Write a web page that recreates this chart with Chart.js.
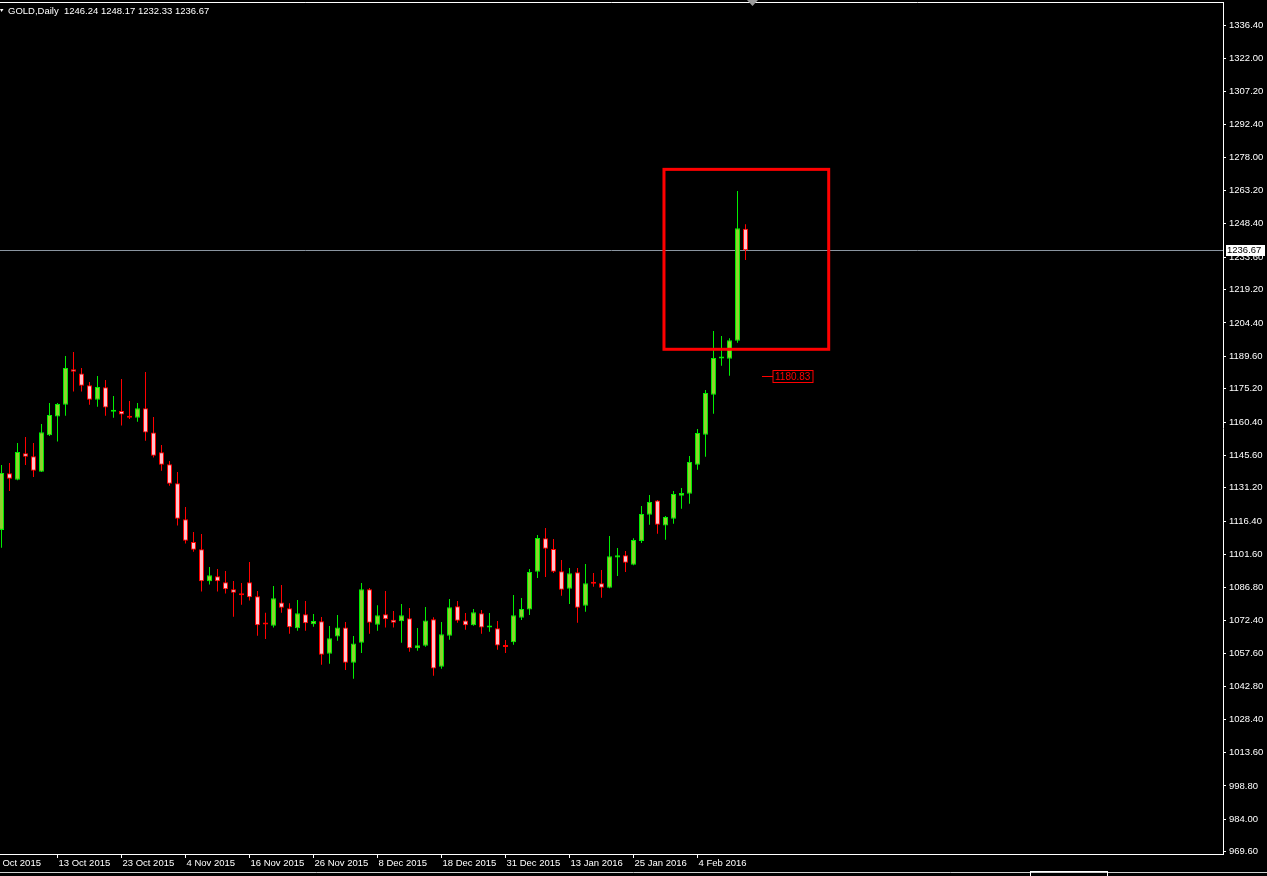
<!DOCTYPE html>
<html><head><meta charset="utf-8">
<script src="https://cdn.jsdelivr.net/npm/chart.js@4.4.1/dist/chart.umd.min.js"></script>
<style>html,body{margin:0;padding:0;background:#000;overflow:hidden}canvas{display:block;background:#000}</style>
</head><body>
<canvas id="c" width="1267" height="876"></canvas>
<script>
// ---- data (GOLD, Daily) ----
const dates = [
 "2 Oct 2015","5 Oct 2015","6 Oct 2015","7 Oct 2015","8 Oct 2015","9 Oct 2015","12 Oct 2015","13 Oct 2015","14 Oct 2015","15 Oct 2015",
 "16 Oct 2015","19 Oct 2015","20 Oct 2015","21 Oct 2015","22 Oct 2015","23 Oct 2015","26 Oct 2015","27 Oct 2015","28 Oct 2015","29 Oct 2015",
 "30 Oct 2015","2 Nov 2015","3 Nov 2015","4 Nov 2015","5 Nov 2015","6 Nov 2015","9 Nov 2015","10 Nov 2015","11 Nov 2015","12 Nov 2015",
 "13 Nov 2015","16 Nov 2015","17 Nov 2015","18 Nov 2015","19 Nov 2015","20 Nov 2015","23 Nov 2015","24 Nov 2015","25 Nov 2015","26 Nov 2015",
 "27 Nov 2015","30 Nov 2015","1 Dec 2015","2 Dec 2015","3 Dec 2015","4 Dec 2015","7 Dec 2015","8 Dec 2015","9 Dec 2015","10 Dec 2015",
 "11 Dec 2015","14 Dec 2015","15 Dec 2015","16 Dec 2015","17 Dec 2015","18 Dec 2015","21 Dec 2015","22 Dec 2015","23 Dec 2015","24 Dec 2015",
 "28 Dec 2015","29 Dec 2015","30 Dec 2015","31 Dec 2015","4 Jan 2016","5 Jan 2016","6 Jan 2016","7 Jan 2016","8 Jan 2016","11 Jan 2016",
 "12 Jan 2016","13 Jan 2016","14 Jan 2016","15 Jan 2016","18 Jan 2016","19 Jan 2016","20 Jan 2016","21 Jan 2016","22 Jan 2016","25 Jan 2016",
 "26 Jan 2016","27 Jan 2016","28 Jan 2016","29 Jan 2016","1 Feb 2016","2 Feb 2016","3 Feb 2016","4 Feb 2016","5 Feb 2016","8 Feb 2016",
 "9 Feb 2016","10 Feb 2016","11 Feb 2016","12 Feb 2016"
];
const openP = [
 1112.5,1137.6,1134.8,1146.5,1145.2,1138.3,1154.5,1162.8,1168.1,1183.8,
 1182.0,1176.7,1170.3,1175.8,1165.0,1165.3,1163.1,1162.3,1166.5,1155.8,
 1147.0,1141.6,1133.2,1117.2,1107.1,1103.9,1089.7,1091.9,1089.2,1086.1,
 1083.9,1089.2,1083.0,1070.9,1069.9,1080.3,1077.7,1068.8,1075.0,1070.6,
 1071.9,1057.5,1065.2,1069.2,1053.5,1062.4,1086.1,1070.4,1075.0,1072.6,
 1071.9,1073.3,1059.9,1061.0,1072.8,1051.7,1065.5,1078.6,1072.3,1070.1,
 1075.5,1069.1,1068.8,1060.9,1062.6,1073.5,1077.1,1093.9,1108.8,1104.0,
 1094.1,1086.4,1093.7,1078.8,1089.0,1088.8,1086.8,1100.2,1101.2,1097.0,
 1107.6,1119.2,1125.6,1114.4,1117.5,1127.7,1128.6,1141.4,1154.8,1172.5,
 1188.6,1188.5,1196.5,1246.24
];
const highP = [
 1141.3,1142.2,1151.1,1153.8,1151.1,1159.5,1168.8,1168.8,1189.7,1191.5,
 1184.4,1178.2,1180.8,1179.1,1171.9,1179.5,1169.7,1168.8,1182.6,1162.6,
 1150.2,1143.1,1138.2,1122.7,1111.6,1110.7,1096.0,1095.1,1094.2,1089.8,
 1088.9,1098.2,1085.4,1075.7,1087.6,1088.0,1079.9,1081.4,1080.9,1075.1,
 1073.8,1069.8,1074.7,1071.6,1065.4,1088.9,1086.7,1079.0,1085.4,1076.5,
 1079.6,1077.8,1068.9,1078.3,1073.7,1071.6,1081.8,1080.9,1075.6,1077.4,
 1076.9,1075.6,1072.0,1063.6,1083.6,1082.2,1095.1,1110.2,1113.3,1108.5,
 1099.1,1095.6,1095.6,1097.3,1093.4,1094.7,1109.8,1104.5,1103.1,1108.8,
 1123.1,1128.0,1125.8,1118.7,1129.8,1131.1,1145.3,1157.3,1174.6,1200.8,
 1198.6,1197.6,1263.0,1248.17
];
const lowP = [
 1104.6,1129.8,1134.5,1141.3,1136.0,1138.2,1154.2,1151.7,1163.2,1173.9,
 1173.9,1168.1,1167.2,1163.2,1162.3,1158.8,1161.7,1160.5,1152.1,1144.6,
 1138.8,1132.1,1114.4,1106.4,1102.8,1085.1,1088.2,1085.1,1084.2,1073.9,
 1079.3,1081.1,1065.5,1064.0,1069.1,1075.7,1066.4,1067.7,1067.7,1069.5,
 1052.6,1053.1,1063.3,1050.3,1046.4,1057.8,1066.4,1067.7,1069.1,1069.1,
 1062.4,1058.4,1058.8,1060.6,1047.7,1050.8,1063.7,1071.3,1068.2,1069.9,
 1066.4,1067.3,1059.3,1057.8,1061.5,1072.5,1074.7,1091.1,1091.6,1093.4,
 1083.3,1079.6,1071.3,1076.2,1087.3,1082.4,1086.6,1092.0,1093.8,1096.8,
 1106.7,1114.8,1110.8,1108.1,1115.2,1121.9,1124.1,1139.2,1145.0,1164.1,
 1185.4,1180.9,1195.6,1232.33
];
const closeP = [
 1137.8,1135.2,1147.1,1145.0,1138.8,1155.9,1163.5,1168.4,1184.4,1182.7,
 1176.5,1170.3,1175.9,1166.8,1165.7,1163.7,1162.3,1166.5,1155.7,1145.4,
 1141.4,1133.0,1117.5,1107.7,1103.7,1089.7,1092.3,1089.7,1086.1,1084.6,
 1083.5,1082.6,1070.1,1070.5,1082.1,1077.9,1069.3,1075.5,1071.0,1072.0,
 1057.1,1064.4,1069.2,1053.5,1062.1,1086.1,1071.3,1074.6,1072.8,1071.3,
 1074.6,1059.9,1061.3,1072.3,1051.0,1066.1,1078.1,1072.2,1070.1,1075.9,
 1069.2,1069.6,1061.2,1060.5,1074.6,1077.4,1093.8,1108.9,1104.1,1093.9,
 1085.9,1093.2,1077.9,1088.8,1088.6,1086.8,1100.8,1101.2,1097.9,1108.0,
 1119.6,1124.9,1114.8,1118.2,1128.4,1128.9,1142.6,1155.5,1173.3,1188.8,
 1188.7,1196.7,1246.4,1236.67
];
// time-axis ticks (bar index) and labels
const tickIndex = [-1, 7, 15, 23, 31, 39, 47, 55, 63, 71, 79, 87];
const tickLabels = ["1 Oct 2015","13 Oct 2015","23 Oct 2015","4 Nov 2015","16 Nov 2015","26 Nov 2015",
                    "8 Dec 2015","18 Dec 2015","31 Dec 2015","13 Jan 2016","25 Jan 2016","4 Feb 2016"];
// price-axis ticks
const priceTicks = [1336.40,1322.00,1307.20,1292.40,1278.00,1263.20,1248.40,1233.60,1219.20,1204.40,
                    1189.60,1175.20,1160.40,1145.60,1131.20,1116.40,1101.60,1086.80,1072.40,1057.60,
                    1042.80,1028.40,1013.60,998.80,984.00,969.60];
// header / annotations
const symbolTitle = "GOLD,Daily";
const lastBar = [1246.24, 1248.17, 1232.33, 1236.67];
const lastPrice = 1236.67;
const zoneBox = [82.81, 103.4, 1192.7, 1272.6];   // index from/to, price low/high
const markLevel = 1180.83;
const markIndex = 95.06;

// ---- styling ----
const BULL_LINE = '#00ee00', BULL_FILL = '#8fd12e', BEAR_LINE = '#ff0000', BEAR_FILL = '#ffc0cb';
const FONT = '"Liberation Sans", Arial, sans-serif';
const idx = dates.map((_, i) => i);
const bull = idx.map(i => closeP[i] >= openP[i]);

const deco = {
  id: 'deco',
  beforeDatasetsDraw(chart) {
    const {ctx, chartArea: a, scales: {y}} = chart;
    const py = Math.round(y.getPixelForValue(lastPrice)) + 0.5;
    ctx.save();
    ctx.strokeStyle = '#8a95a0'; ctx.lineWidth = 1;
    ctx.beginPath(); ctx.moveTo(0, py); ctx.lineTo(a.right, py); ctx.stroke();
    ctx.restore();
  },
  afterDraw(chart) {
    const {ctx, chartArea: a, scales: {x, y}} = chart;
    ctx.save();
    // top frame line
    ctx.strokeStyle = '#ffffff'; ctx.lineWidth = 1;
    ctx.beginPath(); ctx.moveTo(0, a.top + 0.5); ctx.lineTo(a.right + 0.5, a.top + 0.5); ctx.stroke();
    // shift marker
    ctx.fillStyle = '#9a9a9a';
    ctx.beginPath(); ctx.moveTo(747, 0); ctx.lineTo(758, 0); ctx.lineTo(752.5, 6); ctx.closePath(); ctx.fill();
    // red zone rectangle
    const x0 = x.getPixelForValue(zoneBox[0]), x1 = x.getPixelForValue(zoneBox[1]);
    const yT = y.getPixelForValue(zoneBox[3]), yB = y.getPixelForValue(zoneBox[2]);
    ctx.strokeStyle = '#ff0000'; ctx.lineWidth = 3;
    ctx.strokeRect(x0, yT, x1 - x0, yB - yT);
    // level mark label
    const ly = Math.round(y.getPixelForValue(markLevel)) + 0.5;
    const lx = Math.round(x.getPixelForValue(markIndex));
    ctx.lineWidth = 1;
    ctx.beginPath(); ctx.moveTo(lx, ly); ctx.lineTo(lx + 11, ly); ctx.stroke();
    ctx.font = '10px ' + FONT;
    const mt = markLevel.toFixed(2);
    const mw = Math.ceil(ctx.measureText(mt).width) + 4;
    ctx.fillStyle = '#000'; ctx.fillRect(lx + 11, ly - 6, mw, 12);
    ctx.strokeRect(lx + 11, ly - 6, mw, 12);
    ctx.fillStyle = '#ff0000'; ctx.textBaseline = 'middle'; ctx.textAlign = 'left';
    ctx.fillText(mt, lx + 13, ly + 0.5);
    // last price label on axis
    const py = Math.round(y.getPixelForValue(lastPrice));
    ctx.fillStyle = '#ffffff'; ctx.fillRect(a.right + 3, py - 5, 39, 11);
    ctx.fillStyle = '#000000'; ctx.font = '9.5px ' + FONT;
    ctx.fillText(lastPrice.toFixed(2), a.right + 4, py + 0.5);
    // header
    ctx.fillStyle = '#ffffff';
    ctx.beginPath(); ctx.moveTo(0, 9); ctx.lineTo(3.5, 9); ctx.lineTo(1.5, 12); ctx.closePath(); ctx.fill();
    ctx.font = '9.5px ' + FONT;
    ctx.fillText(symbolTitle + '  ' + lastBar.map(v => v.toFixed(2)).join(' '), 8, 11);
    // bottom panel strip
    ctx.strokeStyle = '#cfcfcf';
    ctx.beginPath(); ctx.moveTo(0, 872.5); ctx.lineTo(1267, 872.5); ctx.stroke();
    ctx.strokeStyle = '#ffffff';
    ctx.strokeRect(1030.5, 871.5, 77, 6);
    ctx.restore();
  }
};

new Chart(document.getElementById('c'), {
  type: 'bar',
  data: {
    datasets: [
      {
        label: 'body',
        data: idx.map(i => ({x: i, y: [openP[i], closeP[i]]})),
        backgroundColor: idx.map(i => bull[i] ? BULL_FILL : BEAR_FILL),
        borderColor: idx.map(i => bull[i] ? BULL_LINE : BEAR_LINE),
        borderWidth: 1, borderSkipped: false, barThickness: 5, grouped: false,
        minBarLength: 2, inflateAmount: 0
      },
      {
        label: 'wick',
        data: idx.map(i => ({x: i, y: [lowP[i], highP[i]]})),
        backgroundColor: idx.map(i => bull[i] ? BULL_LINE : BEAR_LINE),
        borderWidth: 0, barThickness: 1, grouped: false, inflateAmount: 0
      }
    ]
  },
  options: {
    responsive: false, animation: false, devicePixelRatio: 1,
    layout: {padding: {top: 2, left: 0, right: 0, bottom: 0}},
    plugins: {legend: {display: false}, tooltip: {enabled: false}},
    scales: {
      x: {
        type: 'linear', min: -0.1875, max: 152.6875, offset: false,
        afterBuildTicks: s => { s.ticks = tickIndex.map(v => ({value: v})); },
        afterFit: s => { s.height = 22; s.paddingLeft = 0; s.paddingRight = 0; },
        grid: {display: true, drawOnChartArea: false, drawTicks: true, tickLength: 4, color: '#ffffff', tickColor: '#ffffff', offset: false},
        border: {display: true, color: '#ffffff', width: 1},
        ticks: {
          autoSkip: false, maxRotation: 0, minRotation: 0, align: 'start', padding: 0, labelOffset: 1,
          color: '#ffffff', font: {family: FONT, size: 9.5},
          callback: v => { const k = tickIndex.indexOf(v); return k >= 0 ? tickLabels[k] : ''; }
        }
      },
      y: {
        position: 'right', min: 968.57, max: 1346.92,
        afterBuildTicks: s => { s.ticks = priceTicks.map(v => ({value: v})); },
        afterFit: s => { s.width = 44; s.paddingTop = 0; s.paddingBottom = 0; },
        grid: {display: true, drawOnChartArea: false, drawTicks: true, tickLength: 3, color: '#ffffff', tickColor: '#ffffff'},
        border: {display: true, color: '#ffffff', width: 1},
        ticks: {autoSkip: false, padding: 3, color: '#ffffff', font: {family: FONT, size: 9.5}, callback: v => v.toFixed(2)}
      }
    }
  },
  plugins: [deco]
});
</script>
</body></html>
